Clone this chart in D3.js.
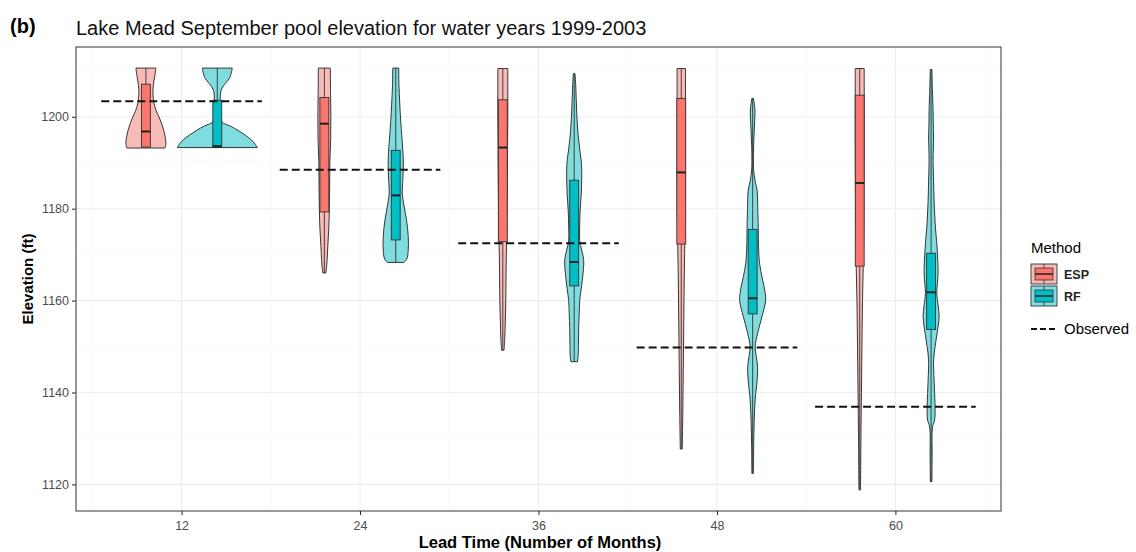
<!DOCTYPE html>
<html>
<head>
<meta charset="utf-8">
<script src="https://cdn.jsdelivr.net/npm/d3@7"></script>
<style>
  body { margin: 0; background: #fff; }
  text { font-family: "Liberation Sans", Arial, sans-serif; }
</style>
</head>
<body>
<div id="chart-area"></div>
<script>
// lead times (months) and methods
var leadTimes = [12, 24, 36, 48, 60];
var methods = ["ESP", "RF"];
var observed = [1203.4, 1188.5, 1172.5, 1149.8, 1136.9];
var yTicks = [1120, 1140, 1160, 1180, 1200];

// box stats per lead time: [min, q1, median, q3, max]
var espStats = [
    [1193.2, 1193.4, 1196.8, 1207.1, 1210.6],
    [1166.0, 1179.3, 1198.5, 1204.2, 1210.6],
    [1149.2, 1172.8, 1193.3, 1203.7, 1210.5],
    [1127.7, 1172.3, 1187.9, 1204.0, 1210.5],
    [1118.8, 1167.5, 1185.6, 1204.7, 1210.5]
];
var rfStats = [
    [1193.3, 1193.3, 1193.6, 1203.6, 1210.6],
    [1168.3, 1173.2, 1182.9, 1192.7, 1210.6],
    [1146.7, 1163.2, 1168.4, 1186.2, 1209.4],
    [1122.4, 1157.1, 1160.5, 1175.5, 1204.0],
    [1120.6, 1153.7, 1161.8, 1170.3, 1210.3]
];

// violin density profiles: [elevation, density]
var espDensity = [
    [[1193.2, 19], [1194, 20], [1196, 19], [1198, 16.5], [1199.5, 14], [1201.5, 10], [1203, 8], [1205, 7], [1207, 7.5], [1209, 9], [1210.6, 10]],
    [[1166, 1.5], [1168, 2.5], [1172, 3.5], [1176, 4.5], [1180, 5], [1185, 5.3], [1190, 5.5], [1195, 6.3], [1200, 6.5], [1205, 6.2], [1210.6, 6]],
    [[1149.2, 1.2], [1152, 2], [1156, 2.5], [1160, 3], [1165, 3.2], [1170, 3.5], [1175, 4], [1180, 4.3], [1185, 4.5], [1190, 4.7], [1195, 4.8], [1200, 5], [1205, 5], [1210.5, 5]],
    [[1127.7, 1], [1135, 1.5], [1145, 2], [1155, 2.5], [1165, 3], [1172, 3.5], [1180, 4], [1190, 4.2], [1200, 4.2], [1210.5, 4.2]],
    [[1118.8, 0.8], [1130, 1.2], [1140, 1.7], [1150, 2.2], [1160, 2.8], [1167.5, 3.5], [1175, 4], [1185, 4.3], [1195, 4.5], [1205, 4.5], [1210.5, 4.5]]
];
var rfDensity = [
    [[1193.3, 40], [1194, 38], [1195, 34], [1196, 28], [1197, 21], [1198, 13], [1198.8, 5], [1200, 3.7], [1202, 3.2], [1204, 3], [1205.5, 3.5], [1206.5, 5.5], [1207.5, 9], [1208.5, 12.5], [1210.6, 15]],
    [[1168.3, 8], [1169, 11], [1171, 12.5], [1174, 12.5], [1177.5, 10.8], [1181, 8], [1183.4, 6.5], [1186, 7], [1188.4, 7.5], [1191, 7.5], [1193, 7], [1196, 6], [1199, 5], [1203, 4], [1207, 3.2], [1210.6, 3]],
    [[1146.7, 3.3], [1148, 4], [1151, 4.3], [1154.3, 4.5], [1157, 5], [1160, 5.5], [1162.5, 7], [1165.2, 8.5], [1168.8, 9.5], [1171, 7.5], [1173, 5.5], [1176, 5.5], [1179.7, 6], [1183, 7], [1186.2, 7.5], [1188.5, 7.5], [1190.5, 7], [1193, 5.5], [1196, 4], [1198, 3.3], [1201, 2.5], [1204, 2], [1207, 1.5], [1209.4, 0.8]],
    [[1122.4, 0.8], [1128, 1], [1133.4, 1.5], [1138.4, 2.5], [1142.7, 4.5], [1145.6, 5], [1148, 3.5], [1150, 2.5], [1152.9, 5], [1156.5, 9.3], [1160.1, 13], [1163, 11.5], [1165.2, 9.3], [1168, 7], [1171, 6], [1176.8, 5.5], [1181, 5], [1184, 4.5], [1186, 2.5], [1188.4, 1], [1192, 0.8], [1195, 1.2], [1198, 1.8], [1201.4, 2.3], [1203, 1.5], [1204, 0.8]],
    [[1120.6, 0.8], [1126, 1], [1132.6, 1.5], [1134, 3.5], [1136.9, 4], [1139.8, 3.5], [1142.7, 3], [1147.1, 2.5], [1150, 4], [1152.9, 6], [1156.5, 8], [1159, 7], [1161.6, 5.7], [1165.9, 7], [1170.3, 6.3], [1173, 5.5], [1176, 4.3], [1181.8, 3], [1186, 2.5], [1190.5, 2], [1195.6, 2.5], [1198, 2.2], [1201.4, 2], [1206, 1.3], [1210.3, 0.8]]
];

var colors = { ESP: "#F8766D", RF: "#00BFC4" };
var lightColors = { ESP: "#F8BBB8", RF: "#7FDDE0" };

var panel = { left: 76, right: 1001, top: 47, bottom: 511 };

var svg = d3.select("#chart-area")
    .append("svg")
    .attr("width", 1136)
    .attr("height", 552);

var x = d3.scaleLinear()
    .domain([4.9, 67.1])
    .range([panel.left, panel.right]);

var yMin = d3.min(espStats.concat(rfStats), function (d) { return d[0]; });
var yMax = d3.max(espStats.concat(rfStats), function (d) { return d[4]; });
var yPad = (yMax - yMin) * 0.05;
var y = d3.scaleLinear()
    .domain([yMin - yPad, yMax + yPad])
    .range([panel.bottom, panel.top]);

// density -> half width in months
var w = d3.scaleLinear().domain([0, 40]).range([0, 2.69]);
var dodge = 2.4;
var boxHalf = 0.3;

// grid
var g = svg.append("g");
var yMinor = [1130, 1150, 1170, 1190, 1210];
var xMinor = [6, 18, 30, 42, 54, 66];
g.selectAll(".yminor").data(yMinor).enter().append("line")
    .attr("x1", panel.left).attr("x2", panel.right)
    .attr("y1", function (d) { return y(d); }).attr("y2", function (d) { return y(d); })
    .attr("stroke", "#F5F5F5").attr("stroke-width", 0.6);
g.selectAll(".xminor").data(xMinor).enter().append("line")
    .attr("y1", panel.top).attr("y2", panel.bottom)
    .attr("x1", function (d) { return x(d); }).attr("x2", function (d) { return x(d); })
    .attr("stroke", "#F5F5F5").attr("stroke-width", 0.6);
g.selectAll(".ymajor").data(yTicks).enter().append("line")
    .attr("x1", panel.left).attr("x2", panel.right)
    .attr("y1", function (d) { return y(d); }).attr("y2", function (d) { return y(d); })
    .attr("stroke", "#EDEDED").attr("stroke-width", 1.1);
g.selectAll(".xmajor").data(leadTimes).enter().append("line")
    .attr("y1", panel.top).attr("y2", panel.bottom)
    .attr("x1", function (d) { return x(d); }).attr("x2", function (d) { return x(d); })
    .attr("stroke", "#EDEDED").attr("stroke-width", 1.1);

// violins
var violinArea = d3.area()
    .curve(d3.curveCatmullRom)
    .y(function (d) { return y(d[0]); });

function drawGroup(method, densities, stats, sign) {
    var grp = svg.append("g").attr("class", "group-" + method);
    leadTimes.forEach(function (lt, i) {
        var cx = lt + sign * dodge;
        violinArea
            .x0(function (d) { return x(cx - w(d[1])); })
            .x1(function (d) { return x(cx + w(d[1])); });
        grp.append("path")
            .datum(densities[i])
            .attr("d", violinArea)
            .attr("fill", lightColors[method])
            .attr("stroke", "#222")
            .attr("stroke-width", 0.9);
        var s = stats[i];
        // whisker
        grp.append("line")
            .attr("x1", x(cx)).attr("x2", x(cx))
            .attr("y1", y(s[0])).attr("y2", y(s[4]))
            .attr("stroke", "#333").attr("stroke-width", 0.9);
        // box
        grp.append("rect")
            .attr("x", x(cx - boxHalf))
            .attr("width", x(cx + boxHalf) - x(cx - boxHalf))
            .attr("y", y(s[3]))
            .attr("height", y(s[1]) - y(s[3]))
            .attr("fill", colors[method])
            .attr("stroke", "#333")
            .attr("stroke-width", 0.9);
        // median
        grp.append("line")
            .attr("x1", x(cx - boxHalf)).attr("x2", x(cx + boxHalf))
            .attr("y1", y(s[2])).attr("y2", y(s[2]))
            .attr("stroke", "#222").attr("stroke-width", 2);
    });
}
drawGroup("ESP", espDensity, espStats, -1);
drawGroup("RF", rfDensity, rfStats, 1);

// observed lines
svg.selectAll(".obs").data(observed).enter().append("line")
    .attr("x1", function (d, i) { return x(leadTimes[i] - 5.4); })
    .attr("x2", function (d, i) { return x(leadTimes[i] + 5.4); })
    .attr("y1", function (d) { return y(d); })
    .attr("y2", function (d) { return y(d); })
    .attr("stroke", "#111")
    .attr("stroke-width", 2)
    .attr("stroke-dasharray", "8,4");

// panel border
svg.append("rect")
    .attr("x", panel.left).attr("y", panel.top)
    .attr("width", panel.right - panel.left)
    .attr("height", panel.bottom - panel.top)
    .attr("fill", "none")
    .attr("stroke", "#555")
    .attr("stroke-width", 1.2);

// axes
var xAxisCall = d3.axisBottom(x).tickValues(leadTimes).tickSize(4).tickSizeOuter(0);
var xAxis = svg.append("g")
    .attr("transform", "translate(0," + panel.bottom + ")")
    .call(xAxisCall);
var yAxisCall = d3.axisLeft(y).tickValues(yTicks).tickSize(4).tickSizeOuter(0)
    .tickFormat(d3.format("d"));
var yAxis = svg.append("g")
    .attr("transform", "translate(" + panel.left + ",0)")
    .call(yAxisCall);
[xAxis, yAxis].forEach(function (a) {
    a.select(".domain").remove();
    a.selectAll(".tick line").attr("stroke", "#333").attr("stroke-width", 1.1);
    a.selectAll(".tick text")
        .attr("fill", "#4D4D4D")
        .attr("font-size", "12.5px")
        .attr("font-family", "Liberation Sans, Arial, sans-serif");
});
xAxis.selectAll(".tick text").attr("dy", "0.95em");

// titles
svg.append("text")
    .attr("x", 10).attr("y", 33)
    .attr("font-size", "20px").attr("font-weight", "bold")
    .text("(b)");
svg.append("text")
    .attr("x", 76).attr("y", 35)
    .attr("font-size", "20px")
    .attr("fill", "#111")
    .text("Lake Mead September pool elevation for water years 1999-2003");
svg.append("text")
    .attr("x", 540).attr("y", 548)
    .attr("text-anchor", "middle")
    .attr("font-size", "16.5px").attr("font-weight", "bold")
    .text("Lead Time (Number of Months)");
svg.append("text")
    .attr("transform", "translate(33," + (panel.top + panel.bottom) / 2 + ") rotate(-90)")
    .attr("text-anchor", "middle")
    .attr("font-size", "15px").attr("font-weight", "bold")
    .text("Elevation (ft)");

// legend
var lg = svg.append("g").attr("transform", "translate(1031,0)");
lg.append("text").attr("x", 0).attr("y", 253).attr("font-size", "15px").text("Method");
methods.forEach(function (m, i) {
    var top = 264 + i * 22;
    lg.append("rect").attr("x", 0).attr("y", top).attr("width", 26).attr("height", 20)
        .attr("fill", lightColors[m]).attr("stroke", "#333").attr("stroke-width", 0.9);
    lg.append("line").attr("x1", 13).attr("x2", 13).attr("y1", top).attr("y2", top + 20)
        .attr("stroke", "#333").attr("stroke-width", 0.8);
    lg.append("rect").attr("x", 4).attr("y", top + 4).attr("width", 18).attr("height", 12)
        .attr("fill", colors[m]).attr("stroke", "#333").attr("stroke-width", 0.8);
    lg.append("line").attr("x1", 4).attr("x2", 22).attr("y1", top + 10).attr("y2", top + 10)
        .attr("stroke", "#222").attr("stroke-width", 1.5);
    lg.append("text").attr("x", 33).attr("y", top + 15).attr("font-size", "12.5px")
        .attr("font-weight", "bold").attr("fill", "#222").text(m);
});
lg.append("line").attr("x1", 0).attr("x2", 26).attr("y1", 329).attr("y2", 329)
    .attr("stroke", "#111").attr("stroke-width", 2).attr("stroke-dasharray", "6,3");
lg.append("text").attr("x", 33).attr("y", 334).attr("font-size", "15px").text("Observed");
</script>
</body>
</html>
